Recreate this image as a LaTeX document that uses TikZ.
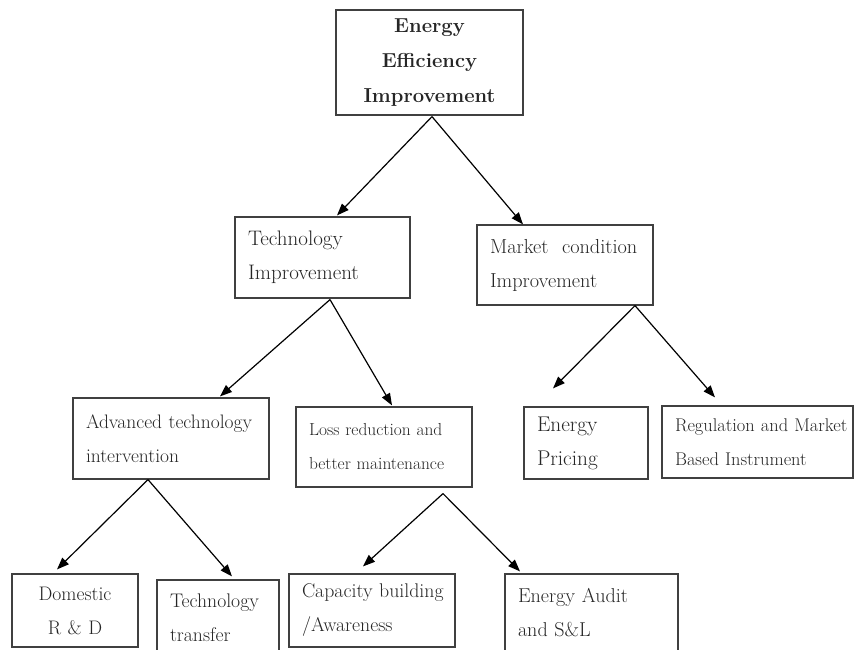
\documentclass[tikz,border=0pt]{standalone}
\usetikzlibrary{arrows.meta,calc}

\tikzset{
  box/.style={draw=black!75, line width=1.2pt, rectangle, inner xsep=13pt,
    inner ysep=0pt, text=black!85, align=left},
  cbox/.style={box, align=center},
  link/.style={draw=black, line width=1.2pt,
    -{Triangle[length=12pt,width=9pt]}},
}
\newcommand{\bsize}[1]{\fontsize{#1}{34}\selectfont}

\begin{document}
\begin{tikzpicture}[x=1pt,y=1pt]
\useasboundingbox (0,0) rectangle (854,649);

% root
\node[cbox, minimum height=105pt, text width=161pt,
  font={\fontsize{20.2}{35}\selectfont\bfseries}] (root) at (429.5,586.5)
  {Energy\\Efficiency\\\mbox{Improvement}};

% second level
\node[box, minimum height=81pt, text width=149pt, font=\bsize{21}]
  (tech) at (322.5,391.5) {Technology\\Improvement};
\node[box, minimum height=80pt, text width=150pt, font=\bsize{20.3}]
  (market) at (565,384) {\mbox{Market\ \ condition}\\Improvement};

% third level
\node[box, minimum height=81pt, text width=170pt, font=\bsize{19.5}]
  (adv) at (171,210.5) {\mbox{Advanced technology}\\intervention};
\node[box, minimum height=80pt, text width=150pt, font=\bsize{17.4}]
  (loss) at (384,202) {\mbox{Loss reduction and}\\\mbox{better maintenance}};
\node[box, minimum height=72pt, text width=98pt, font=\bsize{21.3}]
  (pricing) at (586,206) {Energy\\Pricing};
\node[box, minimum height=72pt, text width=165pt, font=\bsize{18.4}]
  (reg) at (757.5,207) {\mbox{Regulation and Market}\\\mbox{Based Instrument}};

% fourth level
\node[cbox, minimum height=73pt, text width=100pt, font=\bsize{19.6}]
  (dom) at (75,38.5) {Domestic\\R \& D};
\node[box, minimum height=76pt, text width=96pt, font=\bsize{19.7}]
  (transfer) at (218,31) {Technology\\transfer};
\node[box, minimum height=73pt, text width=140pt, font=\bsize{19.8}]
  (cap) at (372,38.5) {\mbox{Capacity building}\\/Awareness};
\node[box, minimum height=78pt, text width=147pt, font=\bsize{20.1}]
  (audit) at (591.5,36) {\mbox{Energy Audit}\\and S\&L};

% arrow start and end points
\coordinate (rootA)   at ($(root.south)+(2.5,-1)$);
\coordinate (techT)   at ($(tech.north)+(14.5,1)$);
\coordinate (marketT) at ($(market.north)+(-42,0)$);
\coordinate (techA)   at ($(tech.south)+(7.5,-1)$);
\coordinate (advT)    at ($(adv.north)+(49,1)$);
\coordinate (lossT)   at ($(loss.north)+(8,1)$);
\coordinate (marketA) at ($(market.south)+(70,0)$);
\coordinate (pricingT) at ($(pricing.north)+(-33,18)$);
\coordinate (regT)    at ($(reg.north)+(-42.5,8)$);
\coordinate (advA)    at ($(adv.south)+(-23,0)$);
\coordinate (domT)    at ($(dom.north)+(-18,4)$);
\coordinate (transferT) at ($(transfer.north)+(14,3)$);
\coordinate (lossA)   at ($(loss.south)+(59,-6)$);
\coordinate (capT)    at ($(cap.north)+(-9,7)$);
\coordinate (auditT)  at ($(audit.north)+(-71.5,2)$);

% connectors
\draw[link] (rootA) -- (techT);
\draw[link] (rootA) -- (marketT);
\draw[link] (techA) -- (advT);
\draw[link] (techA) -- (lossT);
\draw[link] (marketA) -- (pricingT);
\draw[link] (marketA) -- (regT);
\draw[link] (advA) -- (domT);
\draw[link] (advA) -- (transferT);
\draw[link] (lossA) -- (capT);
\draw[link] (lossA) -- (auditT);
\end{tikzpicture}
\end{document}
